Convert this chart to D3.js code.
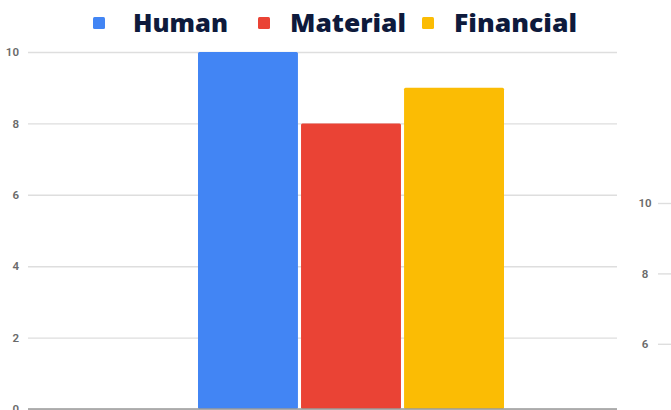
<!DOCTYPE html>
<html>
<head>
<meta charset="utf-8">
<script src="https://cdn.jsdelivr.net/npm/d3@7"></script>
<style>
  html, body { margin: 0; padding: 0; background: #fff; }
  svg { display: block; }
</style>
</head>
<body>
<svg id="chart" width="671" height="410"></svg>
<script>
// Resource types and their scores
const categories = ["Human", "Material", "Financial"];
const values = [10, 8, 9];
const colors = ["#4285F4", "#EA4335", "#FBBC04"];
const yTicks = [0, 2, 4, 6, 8, 10];
const sideTicks = [4, 6, 8, 10];

const svg = d3.select("#chart");

// Main value scale
const y = d3.scaleLinear().domain([0, 10]).range([409, 52]);
const x = d3.scaleBand().domain(categories).range([198, 504]).paddingInner(0.03).paddingOuter(0);

// Gridlines and left tick labels
const yAxis = d3.axisLeft(y).tickValues(yTicks).tickSize(-589).tickPadding(9).tickFormat(d3.format("d"));
const gAxis = svg.append("g").attr("transform", "translate(28,0)").call(yAxis);
gAxis.select(".domain").remove();
gAxis.selectAll(".tick line").attr("stroke", "#dedede").attr("stroke-width", 1.4);
gAxis.selectAll(".tick text")
  .attr("fill", "#6a6a6a").attr("font-family", "Roboto, Arial, sans-serif")
  .attr("font-size", 11.5).attr("font-weight", 600);

// Bars
svg.append("g").selectAll("rect")
  .data(categories)
  .join("rect")
  .attr("x", d => x(d))
  .attr("y", (d, i) => y(values[i]))
  .attr("width", x.bandwidth())
  .attr("height", (d, i) => y(0) - y(values[i]))
  .attr("rx", 1.5)
  .attr("fill", (d, i) => colors[i]);

// Baseline
svg.append("line")
  .attr("x1", 28).attr("x2", 617)
  .attr("y1", y(0)).attr("y2", y(0))
  .attr("stroke", "#9a9a9a").attr("stroke-width", 1.5);

// Secondary axis on the right edge
const y2 = d3.scaleLinear().domain([0, 10]).range([555, 203]);
const side = svg.append("g").attr("transform", "translate(658,0)")
  .call(d3.axisLeft(y2).tickValues(sideTicks).tickSize(-20).tickPadding(7).tickFormat(d3.format("d")));
side.select(".domain").remove();
side.selectAll(".tick line").attr("stroke", "#dedede").attr("stroke-width", 1.4);
side.selectAll(".tick text")
  .attr("text-anchor", "middle").attr("dx", 0).attr("x", -13)
  .attr("fill", "#6a6a6a").attr("font-family", "Roboto, Arial, sans-serif")
  .attr("font-size", 11.5).attr("font-weight", 600);

// Legend
const legendX = [93, 258, 422];
const legendW = [95, 116, 123];
const legend = svg.append("g").selectAll("g")
  .data(categories)
  .join("g")
  .attr("transform", (d, i) => `translate(${legendX[i]},0)`);
legend.append("rect")
  .attr("x", 0).attr("y", 17).attr("width", 12).attr("height", 12).attr("rx", 1.5)
  .attr("fill", (d, i) => colors[i]);
legend.append("text")
  .attr("x", (d, i) => i === 0 ? 40 : 32)
  .attr("y", 32)
  .attr("textLength", (d, i) => legendW[i])
  .attr("lengthAdjust", "spacingAndGlyphs")
  .attr("font-family", "'Open Sans', Inter, sans-serif")
  .attr("font-weight", 800)
  .attr("font-size", 25)
  .attr("fill", "#0e1a3c")
  .text(d => d);
</script>
</body>
</html>
